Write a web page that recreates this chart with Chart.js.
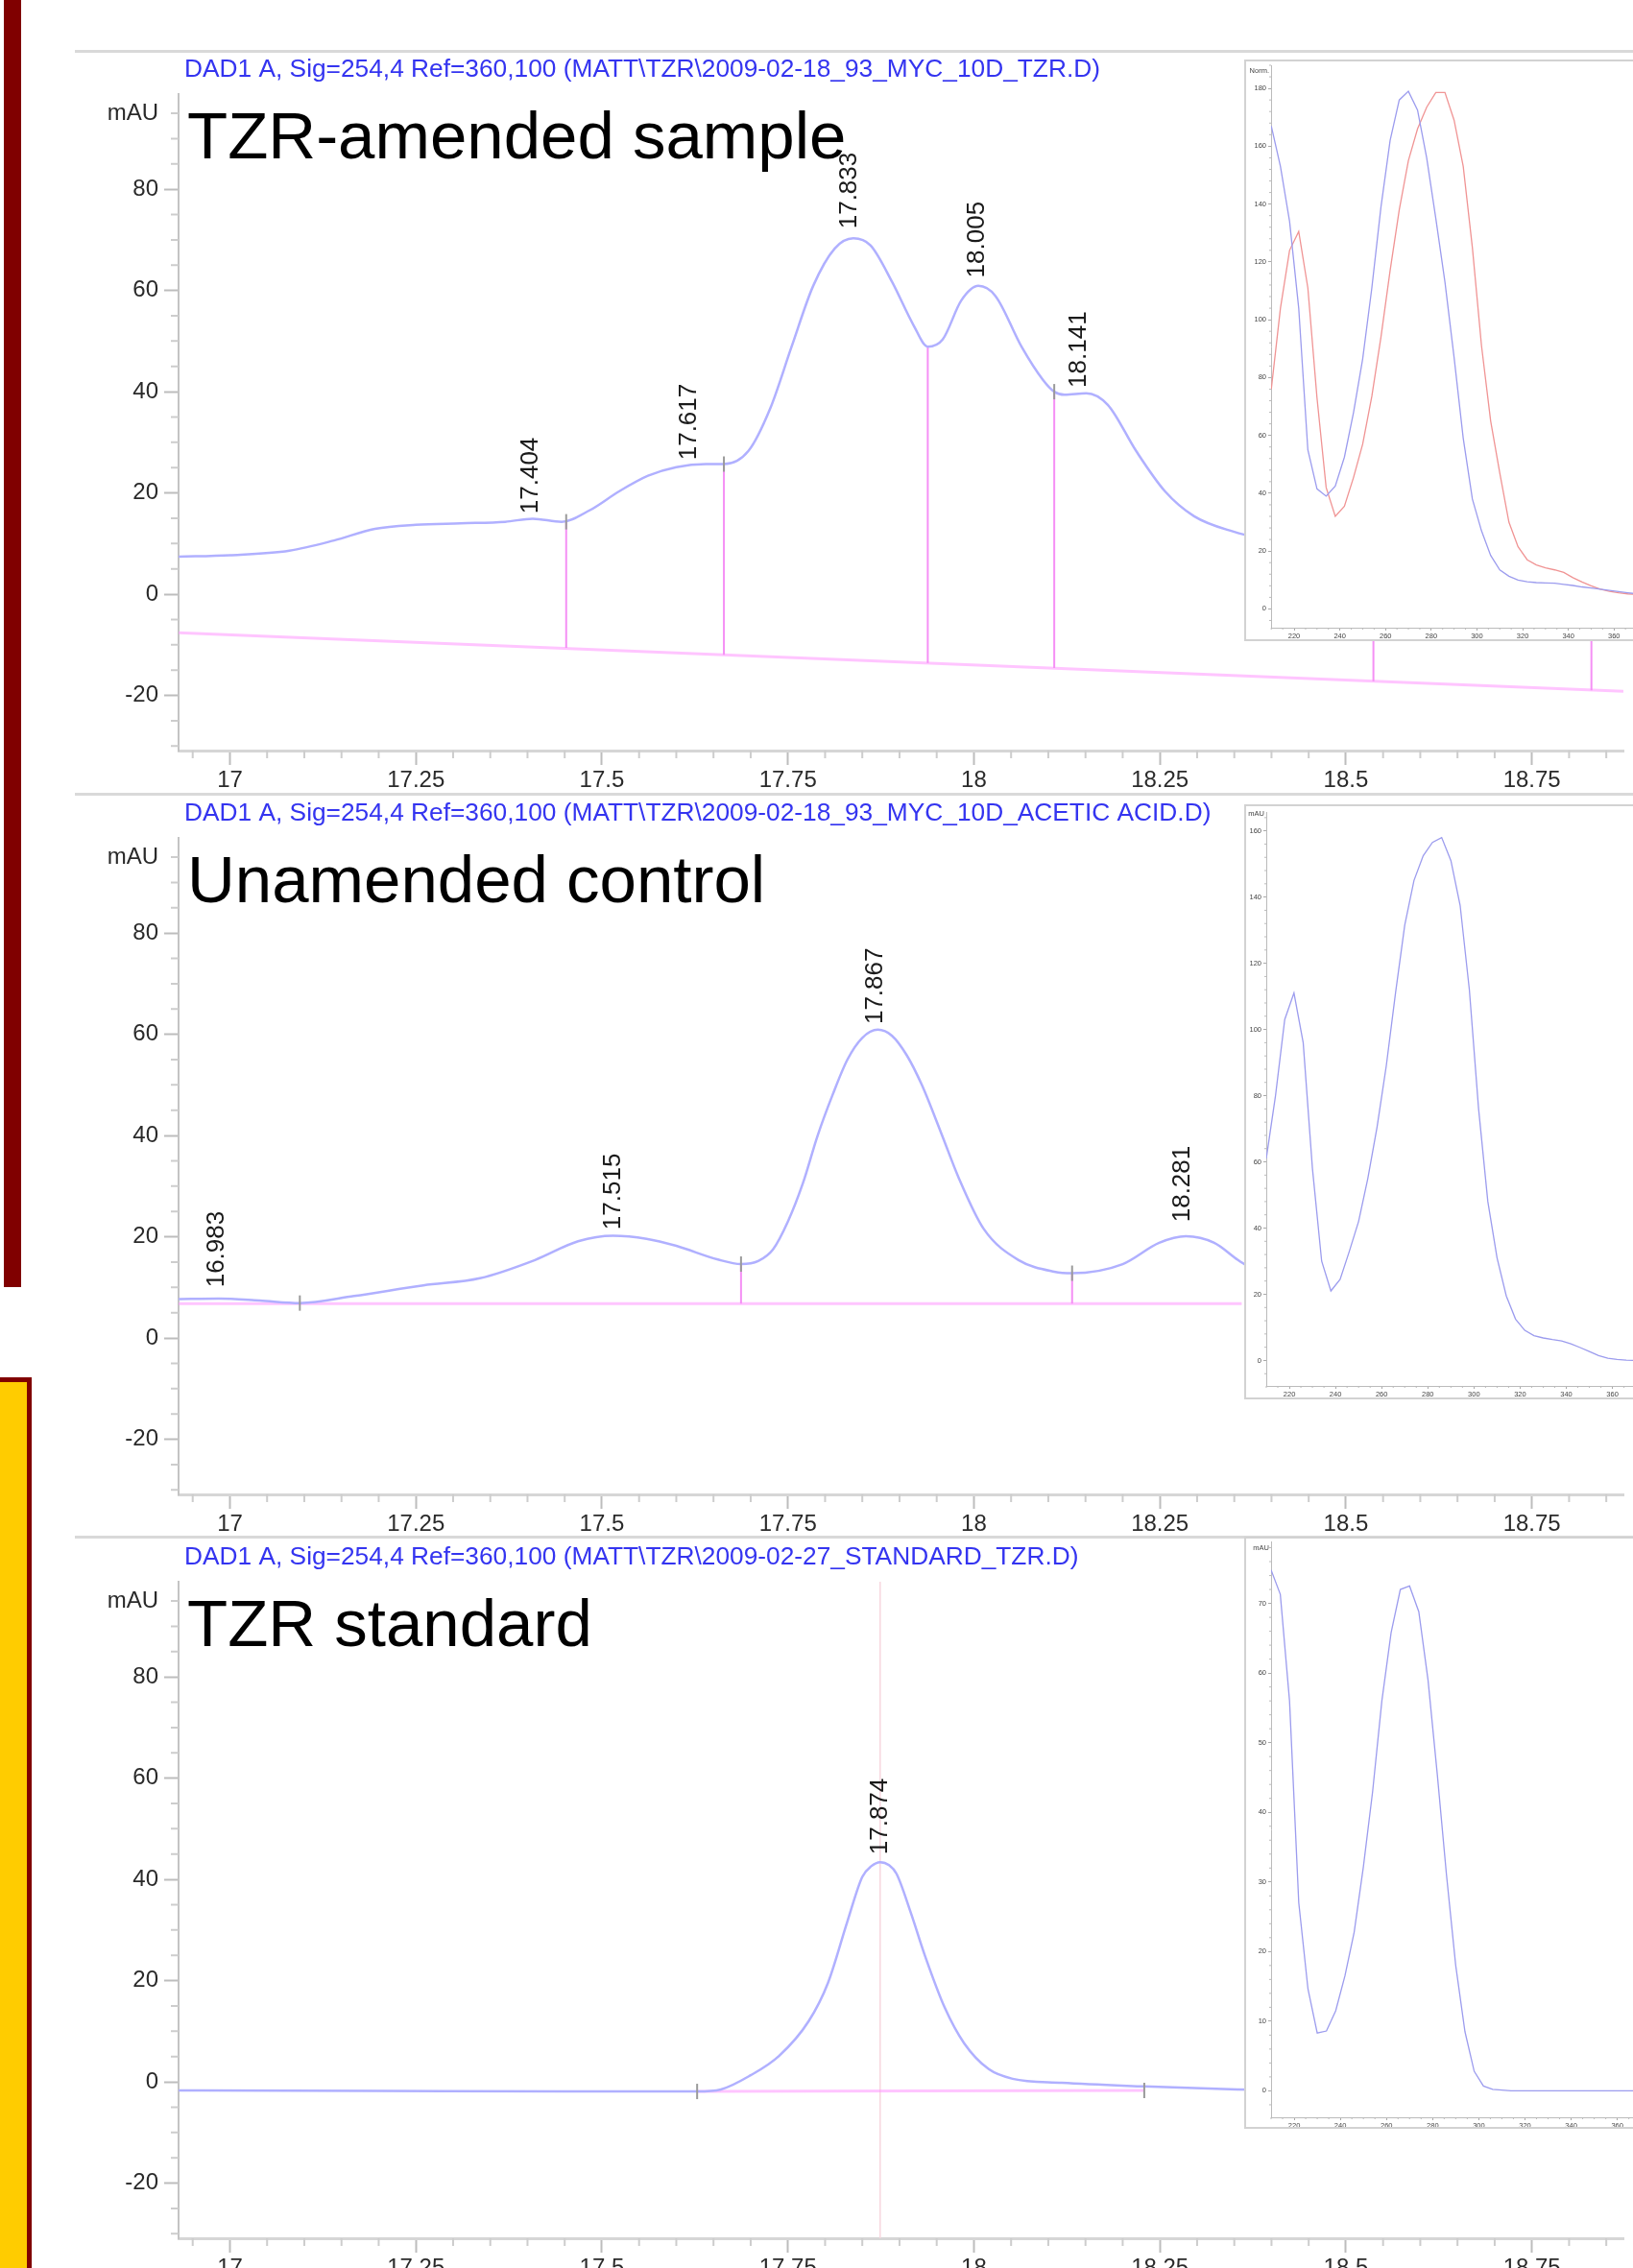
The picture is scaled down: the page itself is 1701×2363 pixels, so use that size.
<!DOCTYPE html>
<html>
<head>
<meta charset="utf-8">
<title>TZR chromatograms</title>
<script src="https://cdn.jsdelivr.net/npm/chart.js@4.4.1/dist/chart.umd.min.js"></script>
<style>
  html, body { margin: 0; padding: 0; background: #fff; width: 1701px; height: 2363px; overflow: hidden; }
  .abs { position: absolute; }
  .sep { position: absolute; left: 78px; width: 1623px; height: 3px; background: #d9d9d9; }
</style>
</head>
<body>
<div class="abs" style="left:4px; top:0; width:18px; height:1341px; background:#800000;"></div>
<div class="abs" style="left:-12px; top:1435px; width:45px; height:1000px; background:#ffcc00; border:5px solid #800000; box-sizing:border-box;"></div>

<canvas id="run1" class="abs" width="1701" height="775" style="left:0; top:53px;"></canvas>
<canvas id="run2" class="abs" width="1701" height="775" style="left:0; top:828px;"></canvas>
<canvas id="run3" class="abs" width="1701" height="775" style="left:0; top:1603px;"></canvas>
<div class="sep" style="top:52px"></div>
<div class="sep" style="top:826px"></div>
<div class="sep" style="top:1600px"></div>
<canvas id="spec1" class="abs" width="405" height="606" style="left:1296px; top:62px;"></canvas>
<canvas id="spec2" class="abs" width="405" height="620" style="left:1296px; top:838px;"></canvas>
<canvas id="spec3" class="abs" width="405" height="617" style="left:1296px; top:1601px;"></canvas>

<script>
const FONT = '"Liberation Sans", Arial, sans-serif';

// shared ticks
const timeTicks = [17, 17.25, 17.5, 17.75, 18, 18.25, 18.5, 18.75];
const mauTicks = [-20, 0, 20, 40, 60, 80];
const waveTicks = [220, 240, 260, 280, 300, 320, 340, 360];

// TZR-amended sample (retention time in min, signal in mAU)
const sampleTime = [16.93, 17.00, 17.08, 17.14, 17.195, 17.25, 17.31, 17.37, 17.407, 17.446, 17.484, 17.523,
  17.562, 17.60, 17.64, 17.664, 17.697, 17.726, 17.755, 17.784, 17.813, 17.838, 17.861, 17.89, 17.919, 17.938,
  17.958, 17.983, 18.006, 18.029, 18.064, 18.093, 18.108, 18.122, 18.151, 18.18, 18.218, 18.257, 18.296, 18.35, 18.40];
const sampleMau = [7.4, 7.7, 8.6, 10.6, 12.9, 13.7, 14.0, 14.3, 14.9, 14.3, 16.6, 20.3,
  23.4, 25.1, 25.7, 25.7, 28.3, 36.6, 48.9, 60.9, 68.3, 70.3, 68.9, 61.7, 53.1, 48.9,
  50.3, 58.0, 60.9, 58.9, 48.9, 42.3, 40.0, 39.4, 39.7, 37.4, 28.3, 20.3, 15.4, 12.3, 10.5];
const sampleBaseTime = [16.93, 18.873];
const sampleBaseMau = [-7.6, -19.2];
const sampleDropTime = [17.452, 17.664, 17.938, 18.108, 18.537, 18.83];
const sampleDropTop = [14.3, 25.7, 48.9, 40.0, 0, 0];
const sampleDropBottom = [-10.6, -12.0, -13.6, -14.6, -17.2, -19.0];
const sampleMarkTime = [17.452, 17.664, 18.108];
const sampleMarkMau = [14.3, 25.7, 40.0];
const samplePeaks = ['17.404', '17.617', '17.833', '18.005', '18.141'];
const samplePeakMau = [15.9, 26.5, 72.2, 62.5, 40.8];

// unamended control
const controlTime = [16.93, 16.985, 17.04, 17.094, 17.167, 17.26, 17.336, 17.41, 17.468, 17.515, 17.56, 17.60,
  17.656, 17.687, 17.71, 17.73, 17.75, 17.77, 17.79, 17.81, 17.83, 17.85, 17.871, 17.89, 17.91, 17.93, 17.956,
  17.98, 18.013, 18.06, 18.108, 18.132, 18.2, 18.249, 18.285, 18.323, 18.355, 18.38];
const controlMau = [7.7, 7.8, 7.4, 6.9, 8.3, 10.4, 11.8, 15.4, 19.1, 20.2, 19.6, 18.2,
  15.5, 14.6, 15.2, 17.5, 23, 30.5, 40, 48, 55, 59.3, 60.9, 59.7, 55.8, 50, 40.5,
  31.5, 21.6, 15.4, 13.1, 12.8, 14.6, 18.8, 20.1, 18.8, 15.4, 13];
const controlBaseTime = [16.93, 18.36];
const controlBaseMau = [6.8, 6.8];
const controlDropTime = [17.687, 18.132];
const controlDropTop = [14.6, 12.8];
const controlDropBottom = [6.8, 6.8];
const controlMarkTime = [17.094, 17.687, 18.132];
const controlMarkMau = [6.9, 14.6, 12.8];
const controlPeaks = ['16.983', '17.515', '17.867', '18.281'];
const controlPeakMau = [10, 21.4, 62, 22.9];

// TZR standard
const standardTime = [16.93, 17.2, 17.45, 17.628, 17.66, 17.70, 17.738, 17.778, 17.804, 17.83, 17.85, 17.862,
  17.874, 17.886, 17.896, 17.915, 17.935, 17.961, 17.987, 18.02, 18.052, 18.118, 18.229, 18.354, 18.4];
const standardMau = [-1.7, -1.8, -1.9, -1.9, -1.5, 1.3, 5.1, 12, 19.6, 31.7, 40.5, 42.6,
  43.4, 42.8, 41.1, 33.5, 24.6, 14.6, 7.6, 2.5, 0.6, -0.2, -0.9, -1.5, -1.6];
const standardBaseTime = [17.628, 18.229];
const standardBaseMau = [-1.9, -1.7];
const standardDropTime = [];
const standardDropTop = [];
const standardDropBottom = [];
const standardMarkTime = [17.628, 18.229];
const standardMarkMau = [-1.9, -1.7];
const standardPeaks = ['17.874'];
const standardPeakMau = [44.9];

// UV spectra (nm)
const specNm = [210, 214, 218, 222, 226, 230, 234, 238, 242, 246, 250, 254, 258, 262, 266, 270, 274, 278, 282, 286,
  290, 294, 298, 302, 306, 310, 314, 318, 322, 326, 330, 334, 338, 342, 346, 350, 354, 358, 362, 366, 370];
const sampleSpecBlue = [167, 153, 134, 104, 55, 41.5, 39, 42.5, 52.5, 68, 86.5, 111, 139, 162, 176, 179, 172.5, 156, 135, 113,
  87, 59, 38, 27, 18.5, 13.5, 11.3, 10, 9.4, 9.1, 9, 8.9, 8.5, 8.1, 7.6, 7.2, 6.8, 6.4, 6, 5.6, 5.2];
const sampleSpecRed = [76, 104, 124, 130.5, 111, 73, 42, 32, 35.5, 45.5, 57, 73.5, 94, 117, 138, 155, 166, 173.5, 178.6, 178.6,
  169, 153, 125, 91, 65, 47, 30, 21.5, 17, 15.2, 14.2, 13.5, 12.6, 10.8, 9.3, 8, 6.8, 6.1, 5.6, 5.2, 5];
const controlSpec = [61, 80, 103, 111, 96, 58, 30, 21, 24.5, 33, 42, 55, 70.5, 89, 111, 131.5, 145, 152.5, 156.5, 158,
  151, 137.5, 112, 76, 48, 31, 19.5, 12.5, 9.1, 7.5, 6.8, 6.3, 5.9, 5, 3.9, 2.7, 1.5, 0.7, 0.3, 0.1, 0];
const standardSpec = [74.8, 71.3, 56, 27, 14.6, 8.3, 8.6, 11.5, 16.5, 22.8, 32.2, 43, 56, 65.8, 72, 72.5, 68.8, 59, 45.5, 31,
  18, 8.5, 2.8, 0.7, 0.2, 0.1, 0, 0, 0, 0, 0, 0, 0, 0, 0, 0, 0, 0, 0, 0, 0];

const pts = (xs, ys) => xs.map((x, i) => ({ x: x, y: ys[i] }));

// short unlabeled ticks between the labeled ones
function minorTicks(o) {
  return {
    id: 'minorTicks',
    afterDraw(chart) {
      const ctx = chart.ctx, xs = chart.scales.x, ys = chart.scales.y, a = chart.chartArea;
      ctx.save();
      ctx.strokeStyle = o.color;
      ctx.lineWidth = o.width;
      ctx.beginPath();
      for (let i = Math.ceil(xs.min / o.xStep - 1e-9); i * o.xStep <= xs.max; i++) {
        const v = i * o.xStep;
        if (Math.abs(v / o.xMajor - Math.round(v / o.xMajor)) < 1e-6) continue;
        const px = xs.getPixelForValue(v);
        ctx.moveTo(px, a.bottom);
        ctx.lineTo(px, a.bottom + o.len);
      }
      for (let i = Math.ceil(ys.min / o.yStep - 1e-9); i * o.yStep <= ys.max; i++) {
        const v = i * o.yStep;
        if (Math.abs(v / o.yMajor - Math.round(v / o.yMajor)) < 1e-6) continue;
        const py = ys.getPixelForValue(v);
        ctx.moveTo(a.left - o.len, py);
        ctx.lineTo(a.left, py);
      }
      ctx.stroke();
      ctx.restore();
    }
  };
}

function chromatogram(id, p) {
  const drops = [];
  p.dropTime.forEach((t, i) => {
    drops.push({ x: t, y: p.dropTop[i] }, { x: t, y: p.dropBottom[i] }, { x: t, y: null });
  });
  const datasets = [
    { data: pts(p.time, p.mau), borderColor: '#b0b0ff', borderWidth: 2.5, cubicInterpolationMode: 'monotone', order: 1 },
    { data: drops, borderColor: '#f590f5', borderWidth: 2, spanGaps: false, order: 2 },
    { data: pts(p.baseTime, p.baseMau), borderColor: 'rgba(255,150,255,0.55)', borderWidth: 3, order: 3 },
    { data: pts(p.markTime, p.markMau), showLine: false, pointStyle: 'line', pointRotation: 90, pointRadius: 8,
      pointBorderColor: '#9a9a9a', pointBorderWidth: 2, order: 0 }
  ];
  if (p.apex) {
    datasets.push({ data: [{ x: p.apex, y: -30.9 }, { x: p.apex, y: 98.8 }], borderColor: '#f7d7df', borderWidth: 1.5, order: 4 });
  }
  const labels = {
    id: 'panelText',
    afterDraw(chart) {
      const ctx = chart.ctx, xs = chart.scales.x, ys = chart.scales.y;
      ctx.save();
      ctx.textBaseline = 'alphabetic';
      ctx.textAlign = 'left';
      ctx.fillStyle = '#3434f0';
      ctx.font = '26.3px ' + FONT;
      ctx.fillText(p.header, 192, 27);
      ctx.fillStyle = '#000';
      ctx.font = '69px ' + FONT;
      ctx.fillText(p.title, 195, 112);
      ctx.fillStyle = '#1a1a1a';
      ctx.font = '26px ' + FONT;
      ctx.textBaseline = 'middle';
      p.peaks.forEach((lab, i) => {
        ctx.save();
        ctx.translate(xs.getPixelForValue(parseFloat(lab)), ys.getPixelForValue(p.peakMau[i]));
        ctx.rotate(-Math.PI / 2);
        ctx.fillText(lab, 0, 0);
        ctx.restore();
      });
      ctx.restore();
    }
  };
  new Chart(document.getElementById(id), {
    type: 'line',
    data: { datasets: datasets },
    options: {
      responsive: false,
      animation: false,
      events: [],
      layout: { padding: { top: 45, left: 0, right: 0, bottom: 0 } },
      elements: { point: { radius: 0 } },
      plugins: { legend: { display: false }, tooltip: { enabled: false } },
      scales: {
        x: {
          type: 'linear', min: 16.931, max: 18.873,
          afterBuildTicks: s => { s.ticks = timeTicks.map(v => ({ value: v })); },
          afterFit: s => { s.height = 46; s.paddingLeft = 0; s.paddingRight = 0; },
          ticks: { callback: v => String(v), font: { family: FONT, size: 24 }, color: '#2a2a2a', padding: 2, maxRotation: 0, autoSkip: false },
          grid: { drawOnChartArea: false, tickLength: 15, tickWidth: 2, tickColor: '#bdbdbd' },
          border: { color: '#d6d6d6', width: 3 }
        },
        y: {
          type: 'linear', min: -30.9, max: 98.8,
          afterBuildTicks: s => { s.ticks = mauTicks.concat([95]).map(v => ({ value: v })); },
          afterFit: s => { s.width = 186; s.paddingTop = 0; s.paddingBottom = 0; },
          ticks: { callback: v => (v === 95 ? 'mAU' : String(v)), font: { family: FONT, size: 24 }, color: '#2a2a2a', padding: 6, autoSkip: false },
          grid: { drawOnChartArea: false, tickLength: 15, tickWidth: 2,
            tickColor: c => (c.tick && c.tick.value === 95 ? 'rgba(0,0,0,0)' : '#bdbdbd') },
          border: { color: '#c4c4c4', width: 2 }
        }
      }
    },
    plugins: [minorTicks({ xStep: 0.05, xMajor: 0.25, yStep: 5, yMajor: 20, len: 8, color: '#cdcdcd', width: 2 }), labels]
  });
}

function spectrum(id, s) {
  const box = {
    id: 'box',
    beforeDraw(chart) {
      const ctx = chart.ctx;
      ctx.save();
      ctx.fillStyle = '#fff';
      ctx.fillRect(0, 0, chart.width, chart.height);
      ctx.restore();
    },
    afterDraw(chart) {
      const ctx = chart.ctx, w = chart.width, h = chart.height;
      ctx.save();
      ctx.strokeStyle = '#d2d2d2';
      ctx.lineWidth = 2;
      ctx.beginPath();
      ctx.moveTo(w, 1); ctx.lineTo(1, 1); ctx.lineTo(1, h - 1); ctx.lineTo(w, h - 1);
      ctx.stroke();
      ctx.fillStyle = '#444';
      ctx.font = '7.5px ' + FONT;
      ctx.textAlign = 'right';
      ctx.textBaseline = 'middle';
      ctx.fillText(s.unit, chart.chartArea.left - 2, chart.scales.y.getPixelForValue(s.unitAt));
      ctx.restore();
    }
  };
  new Chart(document.getElementById(id), {
    type: 'line',
    data: {
      datasets: s.lines.map(l => ({ data: pts(specNm, l.val), borderColor: l.color, borderWidth: 1.3, tension: 0 }))
    },
    options: {
      responsive: false,
      animation: false,
      events: [],
      layout: { padding: { top: s.top, left: 0, right: 0, bottom: 0 } },
      elements: { point: { radius: 0 } },
      plugins: { legend: { display: false }, tooltip: { enabled: false } },
      scales: {
        x: {
          type: 'linear', min: s.xMin, max: s.xMax,
          afterBuildTicks: sc => { sc.ticks = waveTicks.map(v => ({ value: v })); },
          afterFit: sc => { sc.height = s.bottom; sc.paddingLeft = 0; sc.paddingRight = 0; },
          ticks: { font: { family: FONT, size: 7.5 }, color: '#444', padding: 1, maxRotation: 0, autoSkip: false },
          grid: { drawOnChartArea: false, tickLength: 3, tickWidth: 1, tickColor: '#aaa' },
          border: { color: '#bbb', width: 1 }
        },
        y: {
          type: 'linear', min: s.yMin, max: s.yMax,
          afterBuildTicks: sc => { sc.ticks = s.yTicks.map(v => ({ value: v })); },
          afterFit: sc => { sc.width = s.left; sc.paddingTop = 0; sc.paddingBottom = 0; },
          ticks: { font: { family: FONT, size: 7.5 }, color: '#444', padding: 2, autoSkip: false },
          grid: { drawOnChartArea: false, tickLength: 3, tickWidth: 1, tickColor: '#aaa' },
          border: { color: '#bbb', width: 1 }
        }
      }
    },
    plugins: [minorTicks({ xStep: 5, xMajor: 20, yStep: s.yMinor, yMajor: s.yTicks[1] - s.yTicks[0], len: 2, color: '#bbb', width: 1 }), box]
  });
}

chromatogram('run1', {
  header: 'DAD1 A, Sig=254,4 Ref=360,100 (MATT\\TZR\\2009-02-18_93_MYC_10D_TZR.D)',
  title: 'TZR-amended sample',
  time: sampleTime, mau: sampleMau, baseTime: sampleBaseTime, baseMau: sampleBaseMau,
  dropTime: sampleDropTime, dropTop: sampleDropTop, dropBottom: sampleDropBottom,
  markTime: sampleMarkTime, markMau: sampleMarkMau, peaks: samplePeaks, peakMau: samplePeakMau
});
chromatogram('run2', {
  header: 'DAD1 A, Sig=254,4 Ref=360,100 (MATT\\TZR\\2009-02-18_93_MYC_10D_ACETIC ACID.D)',
  title: 'Unamended control',
  time: controlTime, mau: controlMau, baseTime: controlBaseTime, baseMau: controlBaseMau,
  dropTime: controlDropTime, dropTop: controlDropTop, dropBottom: controlDropBottom,
  markTime: controlMarkTime, markMau: controlMarkMau, peaks: controlPeaks, peakMau: controlPeakMau
});
chromatogram('run3', {
  header: 'DAD1 A, Sig=254,4 Ref=360,100 (MATT\\TZR\\2009-02-27_STANDARD_TZR.D)',
  title: 'TZR standard',
  time: standardTime, mau: standardMau, baseTime: standardBaseTime, baseMau: standardBaseMau,
  dropTime: standardDropTime, dropTop: standardDropTop, dropBottom: standardDropBottom,
  markTime: standardMarkTime, markMau: standardMarkMau, peaks: standardPeaks, peakMau: standardPeakMau,
  apex: 17.874
});

spectrum('spec1', {
  lines: [{ val: sampleSpecBlue, color: '#9c9cee' }, { val: sampleSpecRed, color: '#f09494' }],
  xMin: 209.9, xMax: 368.3, yMin: -6.5, yMax: 188, yTicks: [0, 20, 40, 60, 80, 100, 120, 140, 160, 180], yMinor: 4,
  unit: 'Norm.', unitAt: 186, top: 6, left: 28, bottom: 14
});
spectrum('spec2', {
  lines: [{ val: controlSpec, color: '#9c9cee' }],
  xMin: 210, xMax: 368.9, yMin: -7.7, yMax: 165.7, yTicks: [0, 20, 40, 60, 80, 100, 120, 140, 160], yMinor: 4,
  unit: 'mAU', unitAt: 165, top: 8, left: 23, bottom: 14
});
spectrum('spec3', {
  lines: [{ val: standardSpec, color: '#9c9cee' }],
  xMin: 210, xMax: 366.8, yMin: -3.8, yMax: 78.9, yTicks: [0, 10, 20, 30, 40, 50, 60, 70], yMinor: 2,
  unit: 'mAU', unitAt: 78, top: 5, left: 28, bottom: 12
});
</script>
</body>
</html>
